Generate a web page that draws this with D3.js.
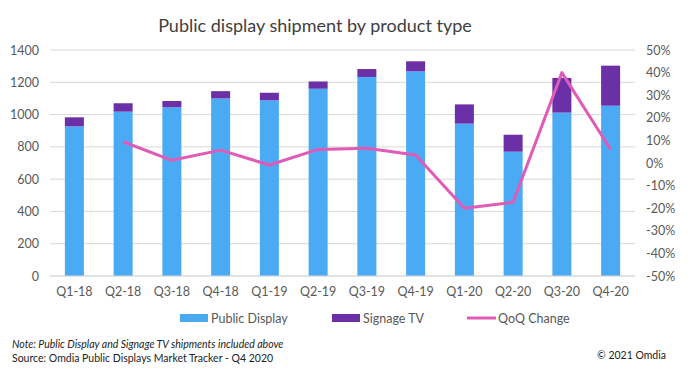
<!DOCTYPE html>
<html>
<head>
<meta charset="utf-8">
<script src="https://cdn.jsdelivr.net/npm/d3@7"></script>
<style>
  html, body { margin: 0; padding: 0; background: #fff; }
  svg { display: block; font-family: Lato, "Open Sans", sans-serif; }
</style>
</head>
<body>
<svg id="chart" width="694" height="385"></svg>
<script>
// data
const quarters = ['Q1-18', 'Q2-18', 'Q3-18', 'Q4-18', 'Q1-19', 'Q2-19', 'Q3-19', 'Q4-19', 'Q1-20', 'Q2-20', 'Q3-20', 'Q4-20']
const publicDisplay = [927, 1018, 1045, 1100, 1088, 1160, 1233, 1268, 944, 770, 1012, 1055]
const signageTV = [56, 52, 39, 45, 47, 45, 49, 62, 119, 105, 215, 248]
const qoqChange = [null, 0.094, 0.012, 0.057, -0.009, 0.060, 0.065, 0.035, -0.200, -0.174, 0.400, 0.060]
const leftTicks = [0, 200, 400, 600, 800, 1000, 1200, 1400]
const rightTicks = [-0.5, -0.4, -0.3, -0.2, -0.1, 0, 0.1, 0.2, 0.3, 0.4, 0.5]

const colors = { pub: '#4aabf4', tv: '#6b2fa6', qoq: '#e05bb5' }

const svg = d3.select('#chart')
const plot = { left: 50, right: 635, top: 50, bottom: 276 }

const x = d3.scaleBand().domain(quarters).range([plot.left, plot.right]).paddingInner(0.61).paddingOuter(0.305)
const y = d3.scaleLinear().domain([0, 1400]).range([plot.bottom, plot.top])
const yPct = d3.scaleLinear().domain([-0.5, 0.5]).range([plot.bottom, plot.top])

// title
svg.append('text')
  .attr('x', 315).attr('y', 32)
  .attr('text-anchor', 'middle')
  .attr('font-size', 18)
  .attr('fill', '#404040')
  .text('Public display shipment by product type')

// gridlines
svg.append('g')
  .selectAll('line')
  .data(leftTicks)
  .join('line')
  .attr('x1', plot.left).attr('x2', plot.right)
  .attr('y1', (d) => y(d)).attr('y2', (d) => y(d))
  .attr('stroke', '#d9d9d9')
  .attr('stroke-width', 1)

// left axis
const leftAxis = svg.append('g')
  .attr('transform', `translate(${plot.left - 11},0)`)
  .call(d3.axisLeft(y).tickValues(leftTicks).tickSize(0).tickPadding(0).tickFormat(d3.format('d')))
leftAxis.select('.domain').remove()
leftAxis.selectAll('text').attr('font-size', 12.5).attr('fill', '#595959').attr('font-family', 'Lato, sans-serif')

// right axis
const rightAxis = svg.append('g')
  .attr('transform', `translate(${plot.right + 11},0)`)
  .call(d3.axisRight(yPct).tickValues(rightTicks).tickSize(0).tickPadding(0))
rightAxis.select('.domain').remove()
rightAxis.selectAll('text').attr('font-size', 12.5).attr('fill', '#595959').attr('font-family', 'Lato, sans-serif')
  .text((d) => `${Math.round(d * 100)}%`)

// stacked bars
const stacked = quarters.map((q, i) => ({ q, pub: publicDisplay[i], tv: signageTV[i] }))
const bars = svg.append('g')
bars.selectAll('rect.pub')
  .data(stacked)
  .join('rect')
  .attr('class', 'pub')
  .attr('x', (d) => x(d.q))
  .attr('width', x.bandwidth())
  .attr('y', (d) => y(d.pub))
  .attr('height', (d) => y(0) - y(d.pub))
  .attr('fill', colors.pub)
bars.selectAll('rect.tv')
  .data(stacked)
  .join('rect')
  .attr('class', 'tv')
  .attr('x', (d) => x(d.q))
  .attr('width', x.bandwidth())
  .attr('y', (d) => y(d.pub + d.tv))
  .attr('height', (d) => y(d.pub) - y(d.pub + d.tv))
  .attr('fill', colors.tv)

// x axis baseline + labels
svg.append('line')
  .attr('x1', plot.left).attr('x2', plot.right)
  .attr('y1', y(0)).attr('y2', y(0))
  .attr('stroke', '#d9d9d9')
const xAxis = svg.append('g')
  .attr('transform', `translate(0,${plot.bottom + 11})`)
  .call(d3.axisBottom(x).tickSize(0).tickPadding(0))
xAxis.select('.domain').remove()
xAxis.selectAll('text').attr('font-size', 12.5).attr('fill', '#595959').attr('font-family', 'Lato, sans-serif')

// QoQ line
const line = d3.line()
  .defined((d) => d.v != null)
  .x((d) => x(d.q) + x.bandwidth() / 2)
  .y((d) => yPct(d.v))
svg.append('path')
  .datum(quarters.map((q, i) => ({ q, v: qoqChange[i] })))
  .attr('d', line)
  .attr('fill', 'none')
  .attr('stroke', colors.qoq)
  .attr('stroke-width', 3)
  .attr('stroke-linejoin', 'round')

// legend
const legendItems = [
  { label: 'Public Display', color: colors.pub, type: 'rect', x: 180 },
  { label: 'Signage TV', color: colors.tv, type: 'rect', x: 332 },
  { label: 'QoQ Change', color: colors.qoq, type: 'line', x: 467 }
]
const legend = svg.append('g')
legendItems.forEach((it) => {
  const g = legend.append('g').attr('transform', `translate(${it.x},318)`)
  if (it.type === 'rect') {
    g.append('rect').attr('x', 0).attr('y', -4).attr('width', 28).attr('height', 8).attr('fill', it.color)
  } else {
    g.append('line').attr('x1', 0).attr('x2', 29).attr('y1', 0).attr('y2', 0)
      .attr('stroke', it.color).attr('stroke-width', 3)
  }
  g.append('text').attr('x', 31).attr('y', 4.5)
    .attr('font-size', 12.5).attr('fill', '#595959').text(it.label)
})

// footnotes
svg.append('text')
  .attr('x', 12).attr('y', 348)
  .attr('font-size', 10.5).attr('font-style', 'italic').attr('fill', '#222')
  .text('Note: Public Display and Signage TV shipments included above')
svg.append('text')
  .attr('x', 12).attr('y', 362)
  .attr('font-size', 10.5).attr('fill', '#222')
  .text('Source: Omdia Public Displays Market Tracker - Q4 2020')
svg.append('text')
  .attr('x', 666).attr('y', 359)
  .attr('text-anchor', 'end')
  .attr('font-size', 10.5).attr('fill', '#222')
  .text('\u00a9 2021 Omdia')
</script>
</body>
</html>
